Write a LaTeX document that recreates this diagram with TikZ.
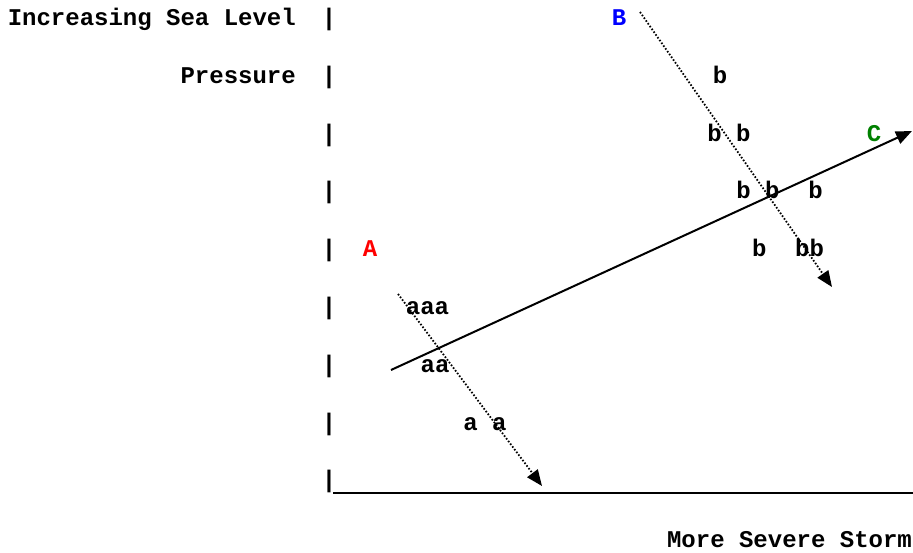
\documentclass[tikz,border=0pt]{standalone}
\usepackage{fontspec}
\setmonofont{Liberation Mono}
\usetikzlibrary{arrows.meta}
\definecolor{cgreen}{RGB}{0,128,0}
\begin{document}
\begin{tikzpicture}[x=1pt, y=-1pt, line join=round, >={Triangle[length=16pt,width=13pt]},
	txt/.style={font=\ttfamily\bfseries\fontsize{24}{24}\selectfont, inner sep=0pt, anchor=base},
	track/.style={->, line width=1.8pt, dash pattern=on 1.6pt off 1.8pt}]
	\useasboundingbox (0,0) rectangle (913,553);
	\foreach \i in {0,...,8}
		\node[txt] (bar\i) at (329,{25.5+57.8*\i}) {|};
	\node[txt, anchor=base east] (ylab1) at (296,25.5) {Increasing Sea Level};
	\node[txt, anchor=base east] (ylab2) at (296,83.3) {Pressure};
	\node[txt] (xlab) at (789.5,547.5) {More Severe Storm};
	\node[txt, text=red] (labA) at (370,256.7) {A};
	\node[txt, text=blue] (labB) at (619,25.5) {B};
	\node[txt, text=cgreen] (labC) at (874,141.1) {C};
	\node[txt] (b1) at (720,83.3) {b};
	\node[txt] (b2) at (729,141.1) {b~b};
	\node[txt] (b3) at (779.5,198.9) {b~b~~b};
	\node[txt] (b4) at (788,256.7) {b~~bb};
	\node[txt] (a1) at (427.5,314.5) {aaa};
	\node[txt] (a2) at (435,372.3) {aa};
	\node[txt] (a3) at (485,430.1) {a~a};
	\coordinate (origin) at (333,493);
	\coordinate (xend) at (913,493);
	\coordinate (Afrom) at (398,294);
	\coordinate (Ato) at (542,486);
	\coordinate (Bfrom) at (640,12);
	\coordinate (Bto) at (832,287);
	\coordinate (Cfrom) at (391,370);
	\coordinate (Cto) at (912,131);
	\draw[line width=2.8pt] (origin)--(xend);
	\draw[track] (Afrom)--(Ato);
	\draw[track] (Bfrom)--(Bto);
	\draw[->, line width=2pt] (Cfrom)--(Cto);
\end{tikzpicture}
\end{document}
